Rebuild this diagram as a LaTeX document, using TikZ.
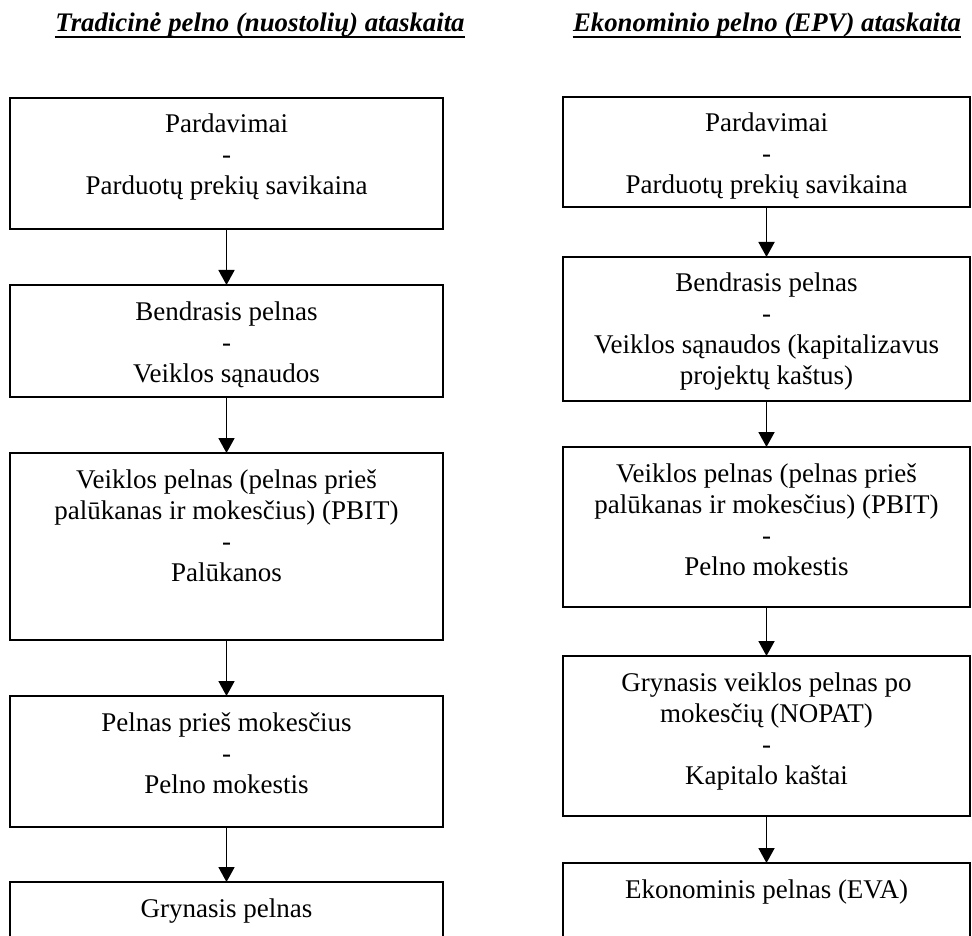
\documentclass[tikz,border=0pt]{standalone}
\usepackage{fontspec}
\setmainfont{Liberation Serif}
\usetikzlibrary{arrows.meta}
\newcommand{\boxtext}[3]{\parbox[t][#1][t]{#2}{\centering\rule{0pt}{17.5pt}#3}}
\tikzset{
  box/.style={draw, line width=1.1pt, inner sep=0pt, outer sep=0pt, anchor=north west,
    font=\fontsize{13.5pt}{15.5pt}\selectfont},
  flow/.style={-{Triangle[width=8pt,length=7.5pt]}, line width=0.9pt},
  ttl/.style={font=\fontsize{13.4pt}{16pt}\selectfont\bfseries\itshape, inner sep=0pt, anchor=base},
  uline/.style={line width=0.8pt}
}
\begin{document}
\begin{tikzpicture}[x=0.5pt, y=-0.5pt]
\clip (0,0) rectangle (972,935);
% titles
\node[ttl] (t1) at (260,32) {Tradicinė pelno (nuostolių) ataskaita};
\node[ttl] (t2) at (767,32) {Ekonominio pelno (EPV) ataskaita};
\draw[uline] ([yshift=-2.6pt]t1.base west) -- ([yshift=-2.6pt]t1.base east);
\draw[uline] ([yshift=-2.6pt]t2.base west) -- ([yshift=-2.6pt]t2.base east);
% left column
\node[box] (L1) at (10,98) {\boxtext{65.5pt}{216.5pt}{Pardavimai\\-\\Parduotų prekių savikaina}};
\node[box] (L2) at (10,285) {\boxtext{56pt}{216.5pt}{Bendrasis pelnas\\-\\Veiklos sąnaudos}};
\node[box] (L3) at (10,453) {\boxtext{93.5pt}{216.5pt}{Veiklos pelnas (pelnas prieš\\palūkanas ir mokesčius) (PBIT)\\-\\Palūkanos}};
\node[box] (L4) at (10,696) {\boxtext{65.5pt}{216.5pt}{Pelnas prieš mokesčius\\-\\Pelno mokestis}};
\node[box] (L5) at (10,882) {\boxtext{50pt}{216.5pt}{Grynasis pelnas}};
% right column
\node[box] (R1) at (563,97) {\boxtext{55pt}{203.5pt}{Pardavimai\\-\\Parduotų prekių savikaina}};
\node[box] (R2) at (563,257) {\boxtext{72pt}{203.5pt}{Bendrasis pelnas\\-\\Veiklos sąnaudos (kapitalizavus\\projektų kaštus)}};
\node[box] (R3) at (563,447) {\boxtext{80pt}{203.5pt}{Veiklos pelnas (pelnas prieš\\palūkanas ir mokesčius) (PBIT)\\-\\Pelno mokestis}};
\node[box] (R4) at (563,656) {\boxtext{80pt}{203.5pt}{Grynasis veiklos pelnas po\\mokesčių (NOPAT)\\-\\Kapitalo kaštai}};
\node[box] (R5) at (563,863) {\boxtext{60pt}{203.5pt}{Ekonominis pelnas (EVA)}};
% connectors
\draw[flow] (L1.south) -- (L2.north);
\draw[flow] (L2.south) -- (L3.north);
\draw[flow] (L3.south) -- (L4.north);
\draw[flow] (L4.south) -- (L5.north);
\draw[flow] (R1.south) -- (R2.north);
\draw[flow] (R2.south) -- (R3.north);
\draw[flow] (R3.south) -- (R4.north);
\draw[flow] (R4.south) -- (R5.north);
\end{tikzpicture}
\end{document}
